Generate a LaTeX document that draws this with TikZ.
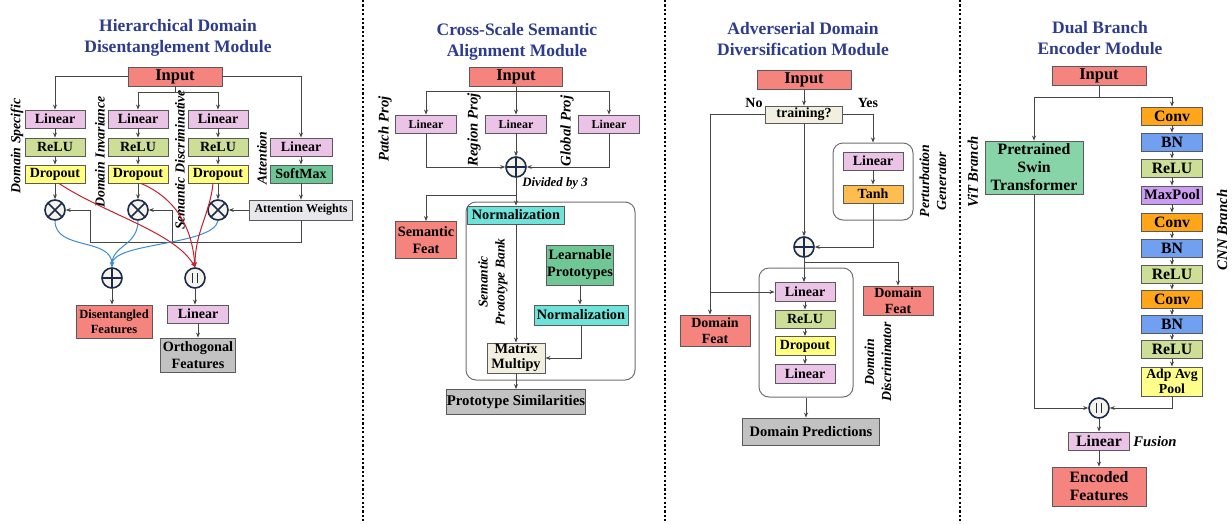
\documentclass[tikz,border=0pt]{standalone}
\usepackage{fontspec}
\setmainfont{Liberation Serif}
\usetikzlibrary{arrows.meta,calc}

\definecolor{salmon}{HTML}{F4847D}
\definecolor{pinkc}{HTML}{EBC3E6}
\definecolor{reluc}{HTML}{CDDE96}
\definecolor{dropc}{HTML}{FFFF80}
\definecolor{smgreen}{HTML}{6CC594}
\definecolor{learnc}{HTML}{70C796}
\definecolor{swinc}{HTML}{86D4A7}
\definecolor{awgray}{HTML}{E8E8EC}
\definecolor{outgray}{HTML}{C2C2C2}
\definecolor{cyanc}{HTML}{6EE3DA}
\definecolor{creamc}{HTML}{F3EFDF}
\definecolor{convc}{HTML}{FFA51A}
\definecolor{tanhc}{HTML}{FDBD4F}
\definecolor{bnc}{HTML}{70A0EF}
\definecolor{mpc}{HTML}{CB9CF2}
\definecolor{adpc}{HTML}{FFFF8C}
\definecolor{titleblue}{HTML}{2E3C8E}
\definecolor{navyc}{HTML}{1B2B4E}
\definecolor{opfill}{HTML}{F6F3EA}
\definecolor{lncol}{HTML}{454545}
\definecolor{boxline}{HTML}{5A5A5A}
\definecolor{roundline}{HTML}{707070}
\definecolor{bluecol}{HTML}{3C8DD0}
\definecolor{redcol}{HTML}{C8202A}

\newcommand\fT{\fontsize{17.5}{21}\selectfont\bfseries}
\newcommand\fIn{\fontsize{16.5}{18}\selectfont\bfseries}
\newcommand\fA{\fontsize{14}{16}\selectfont\bfseries}
\newcommand\fS{\fontsize{12}{14}\selectfont\bfseries}
\newcommand\fB{\fontsize{14.3}{17}\selectfont\bfseries}
\newcommand\fC{\fontsize{15.8}{18}\selectfont\bfseries}
\newcommand\fAdp{\fontsize{13.8}{15}\selectfont\bfseries}
\newcommand\fI{\fontsize{13.8}{17}\selectfont\bfseries\itshape}
\newcommand\fIb{\fontsize{14.7}{17}\selectfont\bfseries\itshape}

\begin{document}
\begin{tikzpicture}[x=1pt,y=-1pt,
  ln/.style={draw=lncol, line width=0.9pt},
  arr/.style={ln, -{Stealth[length=5pt,width=4pt]}},
  bluec/.style={draw=bluecol, line width=1pt, -{Stealth[length=5pt,width=4pt]}},
  redc/.style={draw=redcol, line width=1pt, -{Stealth[length=5pt,width=4pt]}},
  bx/.style 2 args={draw=boxline, line width=0.9pt, inner sep=0pt, align=center, minimum width=#1pt, minimum height=#2pt},
  rbox/.style 2 args={draw=roundline, line width=1pt, rounded corners=10pt, inner sep=0pt, minimum width=#1pt, minimum height=#2pt},
  title/.style={align=center, text=titleblue, font=\fT},
  rlab/.style={rotate=90, font=\fI, align=center},
  divider/.style={draw=black, line width=2pt, dash pattern=on 2.2pt off 2.2pt},
  opbase/.style={circle, draw=navyc, line width=1.6pt, fill=opfill, minimum size=20pt, inner sep=0pt},
  otimesop/.style={opbase, path picture={\draw[navyc,line width=1.5pt] (path picture bounding box.north west)--(path picture bounding box.south east) (path picture bounding box.north east)--(path picture bounding box.south west);}},
  plusop/.style={opbase, path picture={\draw[navyc,line width=1.5pt] (path picture bounding box.north)--(path picture bounding box.south) (path picture bounding box.west)--(path picture bounding box.east);}},
  parop/.style={opbase, path picture={\draw[navyc,line width=1.2pt] ([xshift=-2.2pt,yshift=-5pt]path picture bounding box.north)--([xshift=-2.2pt,yshift=5pt]path picture bounding box.south) ([xshift=2.2pt,yshift=-5pt]path picture bounding box.north)--([xshift=2.2pt,yshift=5pt]path picture bounding box.south);}}
]
\useasboundingbox (0,0) rectangle (1232,523);
\fill[white] (0,0) rectangle (1232,523);

% dividers
\draw[divider] (363,0) -- (363,523);
\draw[divider] (665,0) -- (665,523);
\draw[divider] (960,0) -- (960,523);

%%%%%%%%%%%%%%%% Panel 1
\node[title] (t1) at (178,38) {Hierarchical Domain\\Disentanglement Module};
\node[bx={94}{19}, fill=salmon, font=\fIn] (p1in) at (175,76.5) {Input};
\node[bx={60}{18}, fill=pinkc, font=\fA] (l1a) at (55,119) {Linear};
\node[bx={60}{18}, fill=pinkc, font=\fA] (l1b) at (138,119) {Linear};
\node[bx={60}{18}, fill=pinkc, font=\fA] (l1c) at (218,119) {Linear};
\node[bx={60}{18}, fill=reluc, font=\fA] (r1a) at (55,147) {ReLU};
\node[bx={60}{18}, fill=reluc, font=\fA] (r1b) at (138,147) {ReLU};
\node[bx={60}{18}, fill=reluc, font=\fA] (r1c) at (218,147) {ReLU};
\node[bx={60}{18}, fill=dropc, font=\fA] (d1a) at (55,174) {Dropout};
\node[bx={60}{18}, fill=dropc, font=\fA] (d1b) at (138,174) {Dropout};
\node[bx={60}{18}, fill=dropc, font=\fA] (d1c) at (218,174) {Dropout};
\node[bx={62}{18}, fill=pinkc, font=\fA] (l1d) at (301,147) {Linear};
\node[bx={62}{18}, fill=smgreen, font=\fA] (sm1) at (301,174) {SoftMax};
\node[bx={103}{20}, fill=awgray, font=\fS] (aw) at (301,210) {Attention Weights};
\node[otimesop] (x1a) at (55,210) {};
\node[otimesop] (x1b) at (138,210) {};
\node[otimesop] (x1c) at (218,210) {};
\node[plusop] (pl1) at (112,278) {};
\node[parop] (par1) at (195,278) {};
\node[bx={76}{33}, fill=salmon, font=\fontsize{12.5}{15}\selectfont\bfseries] (df) at (114,321.5) {Disentangled\\Features};
\node[bx={61}{18}, fill=pinkc, font=\fA] (lo) at (198,314) {Linear};
\node[bx={75}{34}, fill=outgray, font=\fontsize{14.2}{17}\selectfont\bfseries] (of) at (198,355) {Orthogonal\\Features};

\node[rlab] (lab1a) at (17,146) {Domain Specific};
\node[rlab] (lab1b) at (100,152) {Domain Invariance};
\node[rlab] (lab1c) at (180,160) {Semantic Discriminative};
\node[rlab] (lab1d) at (262,158) {Attention};

\draw[arr] (p1in.west) -| (l1a.north);
\draw[arr] (p1in.east) -| (l1d.north);
\draw[ln] (p1in.south) -- ++(0,6) coordinate (j1);
\draw[arr] (j1) -| (l1b.north);
\draw[arr] (j1) -| (l1c.north);
\foreach \a/\b in {l1a/r1a,r1a/d1a,d1a/x1a,l1b/r1b,r1b/d1b,d1b/x1b,l1c/r1c,r1c/d1c,d1c/x1c,l1d/sm1,sm1/aw}
  \draw[arr] (\a.south) -- (\b.north);
\draw[arr] (aw.west) -- (x1c.east);
\coordinate (ab) at (90,242);
\coordinate (ac) at (172,242);
\draw[ln] (aw.south) |- (ab);
\draw[arr] (ab) |- (x1a.east);
\draw[arr] (ac) |- (x1b.east);
% blue curves
\draw[bluec] (x1a.south) .. controls +(0,30) and +(0,-30) .. (pl1.north);
\draw[bluec] (x1b.south) .. controls +(0,25) and +(0,-22) .. (pl1.north);
\draw[bluec] (x1c.south) .. controls +(-5,25) and +(0,-25) .. (pl1.north);
% red curves
\draw[redc] ([xshift=4pt]d1a.south) .. controls +(45,30) and +(-20,-35) .. (par1.north);
\draw[redc] ([xshift=3pt]d1b.south) .. controls +(35,15) and +(-3,-40) .. (par1.north);
\draw[redc] ([xshift=-5pt]d1c.south) .. controls +(-3,30) and +(0,-35) .. (par1.north);
\draw[arr] (pl1.south) -- (df.north -| pl1.south);
\draw[arr] (par1.south) -- (lo.north -| par1.south);
\draw[arr] (lo.south) -- (of.north);

%%%%%%%%%%%%%%%% Panel 2
\node[title] (t2) at (517,42) {Cross-Scale Semantic\\Alignment Module};
\node[bx={93}{19}, fill=salmon, font=\fIn] (p2in) at (516,77) {Input};
\node[bx={61}{18}, fill=pinkc, font=\fS] (l2a) at (426,124) {Linear};
\node[bx={61}{18}, fill=pinkc, font=\fS] (l2b) at (516,124) {Linear};
\node[bx={61}{18}, fill=pinkc, font=\fS] (l2c) at (609,124) {Linear};
\node[plusop] (pl2) at (516,167) {};
\node[font=\fontsize{12.8}{15}\selectfont\bfseries\itshape] (div3) at (555,183) {Divided by 3};
\node[rbox={169}{178}] (bank) at (550.5,291) {};
\node[bx={97}{18}, fill=cyanc, font=\fB] (n2a) at (516,215) {Normalization};
\node[bx={61}{37}, fill=salmon, font=\fB] (sf) at (426,240) {Semantic\\Feat};
\node[bx={67}{40}, fill=learnc, font=\fB] (lp) at (580,265) {Learnable\\Prototypes};
\node[bx={94}{20}, fill=cyanc, font=\fB] (n2b) at (581,315) {Normalization};
\node[bx={58}{30}, fill=creamc, font=\fontsize{14.3}{15}\selectfont\bfseries] (mm) at (516,358) {Matrix\\Multipy};
\node[bx={136}{25}, fill=outgray, font=\fontsize{14.8}{17}\selectfont\bfseries] (ps) at (516,402) {Prototype Similarities};
\node[rlab, font=\fIb] (lab2a) at (385,129) {Patch Proj};
\node[rlab, font=\fIb] (lab2b) at (474,130) {Region Proj};
\node[rlab, font=\fIb] (lab2c) at (567,131) {Global Proj};
\node[rlab, font=\fontsize{13.5}{17}\selectfont\bfseries\itshape] (lab2d) at (493,282) {Semantic\\Prototype Bank};

\draw[ln] (p2in.south) -- ++(0,4) coordinate (j2);
\draw[arr] (j2) -| (l2a.north);
\draw[arr] (j2) -| (l2c.north);
\draw[arr] (p2in.south) -- (l2b.north);
\draw[arr] (l2a.south) |- (pl2.west);
\draw[arr] (l2c.south) |- (pl2.east);
\draw[arr] (l2b.south) -- (pl2.north);
\draw[arr] (pl2.south) -- (n2a.north);
\coordinate (j3) at (516,195);
\draw[arr] (j3) -| (sf.north);
\draw[arr] (n2a.south) -- (mm.north);
\draw[arr] (lp.south) -- (lp.south |- n2b.north);
\draw[arr] (n2b.south) |- (mm.east);
\draw[arr] (mm.south) -- (ps.north);

%%%%%%%%%%%%%%%% Panel 3
\node[title] (t3) at (803,39) {Adverserial Domain\\Diversification Module};
\node[bx={94}{19}, fill=salmon, font=\fIn] (p3in) at (804,80) {Input};
\node[bx={77}{17}, fill=creamc, font=\fA] (tr) at (804,114.5) {training?};
\node[font=\fA] (no) at (754,103) {No};
\node[font=\fA] (yes) at (868,103) {Yes};
\node[rbox={80}{77}] (pg) at (873,181.5) {};
\node[bx={60}{18}, fill=pinkc, font=\fA] (l3a) at (873,161) {Linear};
\node[bx={60}{18}, fill=tanhc, font=\fA] (th) at (873,194) {Tanh};
\node[plusop] (pl3) at (804,247) {};
\node[rbox={94}{129}] (dd) at (806,332.5) {};
\node[bx={60}{19}, fill=pinkc, font=\fA] (l3b) at (805,292) {Linear};
\node[bx={60}{18}, fill=reluc, font=\fA] (r3) at (805,319) {ReLU};
\node[bx={60}{19}, fill=dropc, font=\fA] (d3) at (805,346) {Dropout};
\node[bx={60}{19}, fill=pinkc, font=\fA] (l3c) at (805,374) {Linear};
\node[bx={70}{29}, fill=salmon, font=\fA] (dfr) at (898,300.5) {Domain\\Feat};
\node[bx={70}{31}, fill=salmon, font=\fA] (dfl) at (715,330.5) {Domain\\Feat};
\node[bx={137}{27}, fill=outgray, font=\fontsize{14.5}{17}\selectfont\bfseries] (dp) at (811,431.5) {Domain Predictions};
\node[rlab] (lab3a) at (933,181) {Perturbation\\Generator};
\node[rlab] (lab3b) at (878,362) {Domain\\Discriminator};

\draw[arr] (p3in.south) -- (tr.north);
\draw[arr] (tr.west) -| ([xshift=-5pt]dfl.north);
\coordinate (nb) at ([xshift=-5pt]dfl.north |- l3b.west);
\draw[arr] (nb) -- (l3b.west);
\draw[arr] (tr.east) -| (pg.north);
\draw[arr] (l3a.south) -- (th.north);
\draw[arr] (th.south) |- (pl3.east);
\draw[arr] (tr.south) -- (pl3.north);
\draw[arr] (pl3.south) -- (pl3.south |- l3b.north);
\coordinate (j4) at (804,262);
\draw[arr] (j4) -| (dfr.north);
\draw[arr] (l3b.south) -- (r3.north);
\draw[arr] (r3.south) -- (d3.north);
\draw[arr] (d3.south) -- (l3c.north);
\draw[arr] (dd.south) -- (dd.south |- dp.north);

%%%%%%%%%%%%%%%% Panel 4
\node[title] (t4) at (1100,38) {Dual Branch\\Encoder Module};
\node[bx={94}{19}, fill=salmon, font=\fIn] (p4in) at (1099,76) {Input};
\node[bx={98}{53}, fill=swinc, font=\fC] (sw) at (1034,167.5) {Pretrained\\Swin\\Transformer};
\node[bx={61}{18}, fill=convc, font=\fC] (c1) at (1172,116) {Conv};
\node[bx={61}{18}, fill=bnc, font=\fC] (b1) at (1172,142) {BN};
\node[bx={61}{18}, fill=reluc, font=\fC] (e1) at (1172,168) {ReLU};
\node[bx={61}{18}, fill=mpc, font=\fontsize{14.5}{17}\selectfont\bfseries] (mp) at (1172,195) {MaxPool};
\node[bx={61}{18}, fill=convc, font=\fC] (c2) at (1172,222) {Conv};
\node[bx={61}{18}, fill=bnc, font=\fC] (b2) at (1172,248) {BN};
\node[bx={61}{18}, fill=reluc, font=\fC] (e2) at (1172,274.5) {ReLU};
\node[bx={61}{18}, fill=convc, font=\fC] (c3) at (1172,299) {Conv};
\node[bx={61}{18}, fill=bnc, font=\fC] (b3) at (1172,324.5) {BN};
\node[bx={61}{18}, fill=reluc, font=\fC] (e3) at (1172,349.5) {ReLU};
\node[bx={61}{29}, fill=adpc, font=\fAdp] (adp) at (1172,381.5) {Adp Avg\\Pool};
\node[parop] (par4) at (1099,408) {};
\node[bx={61}{18}, fill=pinkc, font=\fC] (l4) at (1099,441) {Linear};
\node[bx={94}{39}, fill=salmon, font=\fC] (ef) at (1099,486.5) {Encoded\\Features};
\node[font=\fIb] (fus) at (1155,441) {Fusion};
\node[rlab, font=\fIb] (lab4a) at (973,172) {ViT Branch};
\node[rlab, font=\fIb] (lab4b) at (1222,230) {CNN Branch};

\draw[ln] (p4in.south) -- ++(0,11.5) coordinate (j5);
\draw[arr] (j5) -| (sw.north);
\draw[arr] (j5) -| (c1.north);
\foreach \a/\b in {c1/b1,b1/e1,e1/mp,mp/c2,c2/b2,b2/e2,e2/c3,c3/b3,b3/e3,e3/adp}
  \draw[arr] (\a.south) -- (\b.north);
\draw[arr] (sw.south) |- (par4.west);
\draw[arr] (adp.south) |- (par4.east);
\draw[arr] (par4.south) -- (l4.north);
\draw[arr] (l4.south) -- (ef.north);
\end{tikzpicture}
\end{document}
